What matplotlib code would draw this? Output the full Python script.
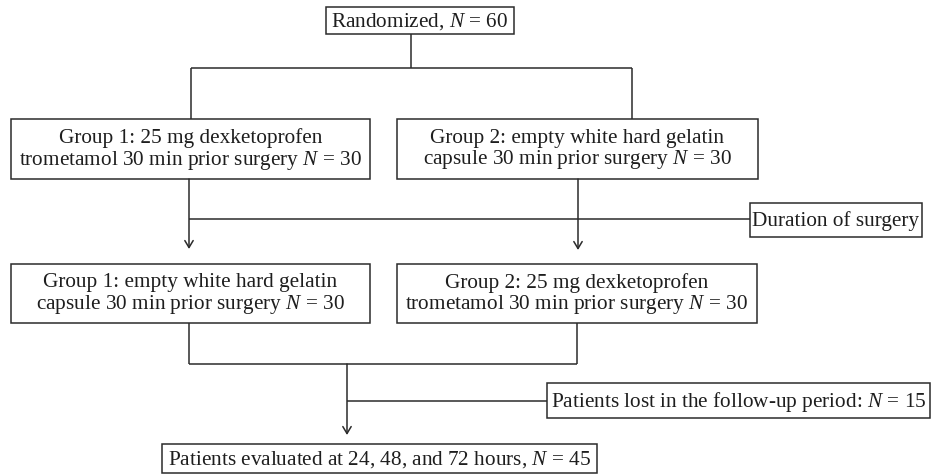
import matplotlib
matplotlib.use("Agg")
import matplotlib.pyplot as plt

plt.rcParams['font.family'] = 'Liberation Serif'
plt.rcParams['mathtext.fontset'] = 'custom'
plt.rcParams['mathtext.rm'] = 'Liberation Serif'
plt.rcParams['mathtext.it'] = 'Liberation Serif:italic'

# box texts
top_text = "Randomized, $N$ = 60"
row1_texts = ["Group 1: 25 mg dexketoprofen\ntrometamol 30 min prior surgery $N$ = 30",
              "Group 2: empty white hard gelatin\ncapsule 30 min prior surgery $N$ = 30"]
row2_texts = ["Group 1: empty white hard gelatin\ncapsule 30 min prior surgery $N$ = 30",
              "Group 2: 25 mg dexketoprofen\ntrometamol 30 min prior surgery $N$ = 30"]
side1_text = "Duration of surgery"
side2_text = "Patients lost in the follow-up period: $N$ = 15"
bottom_text = "Patients evaluated at 24, 48, and 72 hours, $N$ = 45"

line_col = '#2b2b2b'
fs = 15.3

fig = plt.figure(figsize=(9.32, 4.74), dpi=100)
ax = fig.add_axes([0, 0, 1, 1])
ax.set_xlim(0, 932)
ax.set_ylim(474, 0)
ax.axis('off')


def box(x0, y0, x1, y1, txt):
    ax.add_patch(plt.Rectangle((x0, y0), x1 - x0, y1 - y0, fill=False,
                               edgecolor=line_col, lw=1.1))
    ax.text((x0 + x1) / 2, (y0 + y1) / 2 + 1, txt, ha='center', va='center',
            fontsize=fs, color='#1e1e1e', linespacing=1.05)


def seg(xs, ys):
    ax.plot(xs, ys, color=line_col, lw=1.1, solid_capstyle='butt')


def arrow(x, y0, y1):
    ax.annotate('', xy=(x, y1), xytext=(x, y0),
                arrowprops=dict(arrowstyle='->,head_length=0.5,head_width=0.3',
                                color=line_col, lw=1.1, shrinkA=0, shrinkB=0))


# top
box(326, 7, 514, 34, top_text)
seg([411, 411], [34, 68])
seg([191, 632], [68, 68])
seg([191, 191], [68, 119])
seg([632, 632], [68, 119])

# first period
box(11, 119, 370, 179, row1_texts[0])
box(397, 119, 758, 179, row1_texts[1])
arrow(189, 179, 249)
arrow(578, 179, 250)
seg([189, 750], [219, 219])
box(750, 203, 922, 237, side1_text)

# second period
box(11, 264, 370, 323, row2_texts[0])
box(397, 264, 757, 323, row2_texts[1])
seg([189, 189], [323, 364])
seg([577, 577], [323, 364])
seg([189, 577], [364, 364])
arrow(347, 364, 435)
seg([347, 547], [401, 401])
box(547, 383, 930, 418, side2_text)

box(162, 444, 597, 473, bottom_text)

fig.savefig('out.png', dpi=100)
